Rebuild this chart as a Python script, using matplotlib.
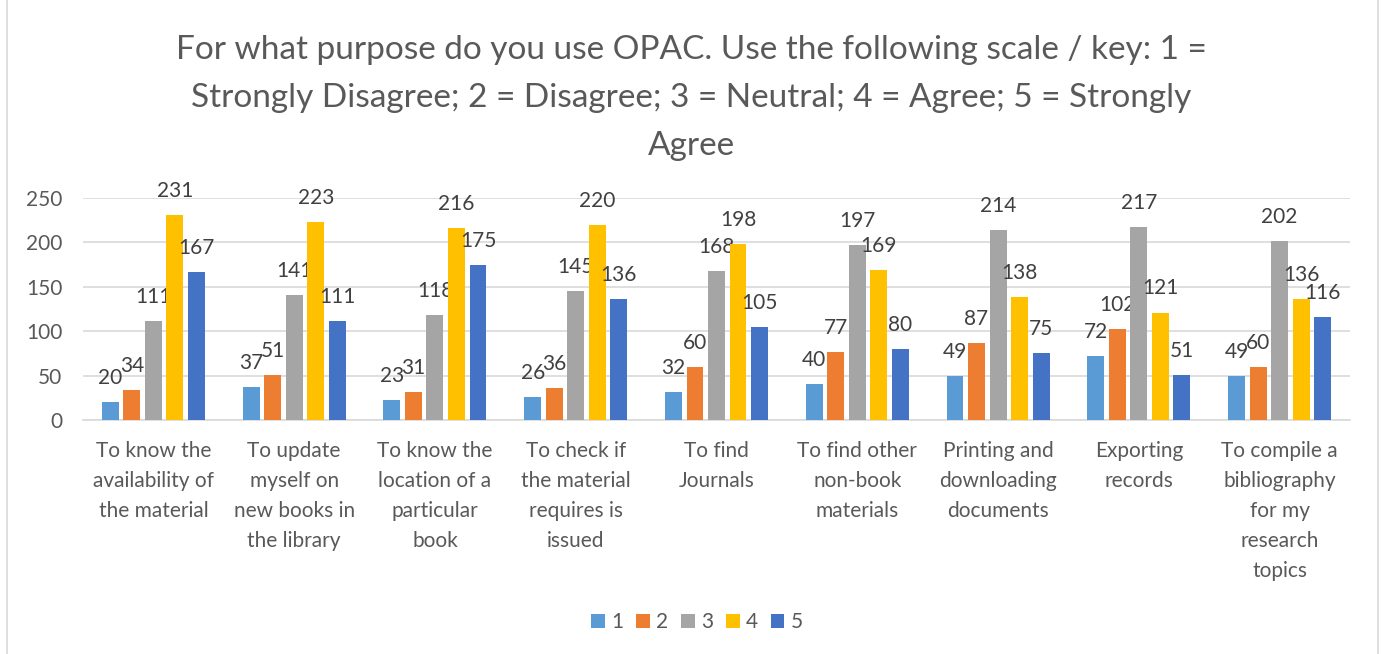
import matplotlib
matplotlib.use("Agg")
import matplotlib.pyplot as plt
from matplotlib.patches import Rectangle
import numpy as np

plt.rcParams['font.family'] = ['Lato', 'DejaVu Sans']

categories = [
    "To know the\navailability of\nthe material",
    "To update\nmyself on\nnew books in\nthe library",
    "To know the\nlocation of a\nparticular\nbook",
    "To check if\nthe material\nrequires is\nissued",
    "To find\nJournals",
    "To find other\nnon-book\nmaterials",
    "Printing and\ndownloading\ndocuments",
    "Exporting\nrecords",
    "To compile a\nbibliography\nfor my\nresearch\ntopics",
]
series_names = ["1", "2", "3", "4", "5"]
s1 = [20, 37, 23, 26, 32, 40, 49, 72, 49]
s2 = [34, 51, 31, 36, 60, 77, 87, 102, 60]
s3 = [111, 141, 118, 145, 168, 197, 214, 217, 202]
s4 = [231, 223, 216, 220, 198, 169, 138, 121, 136]
s5 = [167, 111, 175, 136, 105, 80, 75, 51, 116]
series = [s1, s2, s3, s4, s5]
colors = ["#5B9BD5", "#ED7D31", "#A5A5A5", "#FFC000", "#4472C4"]

title = ("For what purpose do you use OPAC. Use the following scale / key: 1 =\n"
         "Strongly Disagree; 2 = Disagree; 3 = Neutral; 4 = Agree; 5 = Strongly\n"
         "Agree")

text_color = "#595959"
label_color = "#404040"
grid_color = "#D9D9D9"
fs = 15

fig = plt.figure(figsize=(13.82, 6.54), dpi=100)
W, H = 1382, 654

# chart border
fig.patches.append(Rectangle((7 / W, -0.05), 1371 / W, 1.1, transform=fig.transFigure,
                             fill=False, edgecolor=grid_color, linewidth=1.2))

ax = fig.add_axes([83 / W, 1 - 420 / H, (1350 - 83) / W, (420 - 198) / H])
x = np.arange(len(categories))
pitch = 0.153
width = 0.12
for i, (vals, name, c) in enumerate(zip(series, series_names, colors)):
    pos = x + (i - 2) * pitch
    ax.bar(pos, vals, width=width, color=c, label=name, zorder=3)
    for xp, v in zip(pos, vals):
        ax.annotate(str(v), (xp, v), xytext=(0, 13), textcoords="offset points",
                    ha="center", va="baseline", fontsize=fs, color=label_color)

ax.set_xlim(-0.5, len(categories) - 0.5)
ax.set_ylim(0, 250)
ax.set_yticks(np.arange(0, 251, 50))
ax.yaxis.grid(True, color=grid_color, linewidth=1.2, zorder=0)
ax.set_axisbelow(True)
for s in ["top", "right", "left"]:
    ax.spines[s].set_visible(False)
ax.spines["bottom"].set_color(grid_color)
ax.spines["bottom"].set_linewidth(1.2)
ax.tick_params(axis="both", length=0, colors=text_color, labelsize=fs)
ax.tick_params(axis="y", pad=15)
ax.tick_params(axis="x", pad=15)
ax.set_xticks(x)
ax.set_xticklabels(categories, linespacing=1.63, va="top")

fig.text(0.5, 1 - 98 / H, title, ha="center", va="center", fontsize=24,
         color=text_color, linespacing=1.73)

fig.legend(loc="center", bbox_to_anchor=(697 / W, 1 - 622 / H), ncol=5,
           frameon=False, fontsize=fs, handlelength=0.67, handleheight=0.67,
           handletextpad=0.3, columnspacing=0.6, labelcolor=text_color)

fig.savefig("out.png", dpi=100)
